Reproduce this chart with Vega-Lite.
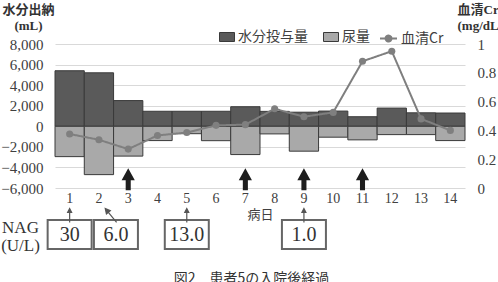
{
  "$schema": "https://vega.github.io/schema/vega-lite/v6.json",
  "padding": {"left": 0, "top": 3, "right": 0, "bottom": 0},
  "config": {
    "view": {"stroke": null},
    "font": "Liberation Serif, Noto Sans CJK JP",
    "text": {"font": "Liberation Serif, Noto Sans CJK JP"}
  },
  "datasets": {
    "days": [
      {"day": 1, "水分投与量": 5400, "尿量": -2950, "cr": 0.375},
      {"day": 2, "水分投与量": 5200, "尿量": -4700, "cr": 0.335},
      {"day": 3, "水分投与量": 2500, "尿量": -2900, "cr": 0.27},
      {"day": 4, "水分投与量": 1460, "尿量": -1390, "cr": 0.365},
      {"day": 5, "水分投与量": 1460, "尿量": -720, "cr": 0.385},
      {"day": 6, "水分投与量": 1460, "尿量": -1400, "cr": 0.435},
      {"day": 7, "水分投与量": 1900, "尿量": -2750, "cr": 0.44},
      {"day": 8, "水分投与量": 1450, "尿量": -740, "cr": 0.55},
      {"day": 9, "水分投与量": 1370, "尿量": -2420, "cr": 0.495},
      {"day": 10, "水分投与量": 1480, "尿量": -1060, "cr": 0.525},
      {"day": 11, "水分投与量": 930, "尿量": -1320, "cr": 0.88},
      {"day": 12, "水分投与量": 1770, "尿量": -810, "cr": 0.95},
      {"day": 13, "水分投与量": 1310, "尿量": -810, "cr": 0.48},
      {"day": 14, "水分投与量": 1290, "尿量": -1390, "cr": 0.4}
    ],
    "events": [{"day": 3}, {"day": 7}, {"day": 9}, {"day": 11}],
    "nag": [
      {"day": 1, "NAG": "30"},
      {"day": 2, "NAG": "6.0"},
      {"day": 5, "NAG": "13.0"},
      {"day": 9, "NAG": "1.0"}
    ]
  },
  "title": {
    "text": "図2　患者5の入院後経過",
    "orient": "bottom",
    "anchor": "middle",
    "fontSize": 14,
    "fontWeight": "normal",
    "font": "Noto Sans CJK JP",
    "color": "#333",
    "offset": 13
  },
  "bounds": "flush",
  "spacing": 21,
  "resolve": {"scale": {"x": "shared"}},
  "vconcat": [
    {
      "width": 410,
      "height": 144,
      "data": {"name": "days"},
      "layer": [
        {
          "layer": [
            {
              "transform": [{"fold": ["水分投与量", "尿量"], "as": ["series", "value"]}],
              "mark": {"type": "bar", "stroke": "#3a3a3a", "strokeWidth": 1, "opacity": 1},
              "encoding": {
                "x": {
                  "field": "day", "type": "ordinal",
                  "scale": {"type": "band", "domain": [1,2,3,4,5,6,7,8,9,10,11,12,13,14], "paddingInner": 0, "paddingOuter": 0},
                  "axis": {"labelAngle": 0, "labelPadding": 3, "ticks": false, "domain": false, "labelFontSize": 14, "labelColor": "#404040", "title": "病日", "titleFont": "Noto Sans CJK JP", "titleFontSize": 13, "titleFontWeight": "normal", "titleColor": "#404040", "titlePadding": 3}
                },
                "y": {
                  "field": "value", "type": "quantitative", "stack": null,
                  "scale": {"domain": [-6000, 8000], "nice": false},
                  "axis": {"values": [-6000,-4000,-2000,0,2000,4000,6000,8000], "tickCount": 20, "labelExpr": "format(datum.value, ',')", "labelOverlap": false, "grid": true, "gridColor": "#d9d9d9", "domain": false, "ticks": false, "labelPadding": 12, "labelFontSize": 15, "labelColor": "#404040", "title": ["水分出納", "(mL)"], "titleAngle": 0, "titleAlign": "center", "titleBaseline": "top", "titleX": -27, "titleY": -41, "titleFont": "Liberation Serif, Noto Sans CJK JP", "titleFontSize": 13, "titleFontWeight": "bold", "titleLineHeight": 16, "titleColor": "#333"}
                },
                "color": {
                  "field": "series", "type": "nominal",
                  "scale": {"domain": ["水分投与量", "尿量"], "range": ["#5a5a5a", "#a9a9a9"]},
                  "legend": {
                    "orient": "none", "direction": "horizontal", "legendX": 164, "legendY": -15,
                    "title": null, "labelFont": "Noto Sans CJK JP", "labelFontSize": 14, "labelColor": "#404040",
                    "columnPadding": 13, "labelOffset": 3, "symbolSize": 225,
                    "symbolType": "M-1,-0.6H1V0.6H-1Z", "symbolStrokeColor": "#3a3a3a", "symbolStrokeWidth": 1, "symbolOpacity": 1
                  }
                }
              }
            },
            {
              "data": {"name": "events"},
              "mark": {"type": "point", "shape": "M0,-1L0.6,0.1L0.23,0.1L0.23,1L-0.23,1L-0.23,0.1L-0.6,0.1Z", "size": 484, "filled": true, "fill": "#1e1e1e", "strokeWidth": 0, "opacity": 1},
              "encoding": {
                "x": {"field": "day", "type": "ordinal"},
                "y": {"datum": -5150, "type": "quantitative"}
              }
            }
          ]
        },
        {
          "layer": [
            {
              "mark": {"type": "line", "strokeWidth": 2, "color": "#7f7f7f"},
              "encoding": {
                "x": {"field": "day", "type": "ordinal"},
                "y": {
                  "field": "cr", "type": "quantitative",
                  "scale": {"domain": [0, 1], "nice": false},
                  "axis": {"orient": "right", "values": [0, 0.2, 0.4, 0.6, 0.8, 1], "tickCount": 20, "labelExpr": "datum.value == 0 ? '0' : datum.value == 1 ? '1' : format(datum.value, '.1f')", "labelOverlap": false, "grid": false, "domain": false, "ticks": false, "labelPadding": 12, "labelFontSize": 15, "labelColor": "#404040", "title": ["血清Cr", "(mg/dL)"], "titleAngle": 0, "titleAlign": "left", "titleBaseline": "top", "titleX": -8, "titleY": -41, "titleFont": "Liberation Serif, Noto Sans CJK JP", "titleFontSize": 13, "titleFontWeight": "bold", "titleLineHeight": 16, "titleColor": "#333"}
                },
                "strokeDash": {
                  "datum": "血清Cr",
                  "scale": {"domain": ["血清Cr"], "range": [[1, 0]]},
                  "legend": {
                    "orient": "none", "direction": "horizontal", "legendX": 324, "legendY": -15,
                    "title": null, "labelFont": "Noto Sans CJK JP", "labelFontSize": 14, "labelColor": "#404040",
                    "labelOffset": 3, "symbolSize": 289,
                    "symbolType": "M-1,0H1M-0.35,0A0.35,0.35,0,1,0,0.35,0A0.35,0.35,0,1,0,-0.35,0Z",
                    "symbolStrokeColor": "#7f7f7f", "symbolFillColor": "#7f7f7f", "symbolStrokeWidth": 2, "symbolOpacity": 1
                  }
                }
              }
            },
            {
              "mark": {"type": "point", "filled": true, "size": 50, "opacity": 1, "color": "#7f7f7f"},
              "encoding": {
                "x": {"field": "day", "type": "ordinal"},
                "y": {"field": "cr", "type": "quantitative"}
              }
            }
          ]
        }
      ],
      "resolve": {"scale": {"y": "independent"}}
    },
    {
      "width": 410,
      "height": 50,
      "data": {"name": "nag"},
      "layer": [
        {
          "mark": {"type": "point", "shape": "M-1,-0.66H1V0.66H-1Z", "size": 1936, "filled": true, "fill": "white", "stroke": "#666666", "strokeWidth": 2, "opacity": 1, "xOffset": {"expr": "datum.day === 2 ? 17 : 0"}},
          "encoding": {
            "x": {"field": "day", "type": "ordinal", "axis": null},
            "y": {
              "datum": 0.49, "type": "quantitative",
              "scale": {"domain": [0, 1], "nice": false},
              "axis": {"labels": false, "ticks": false, "domain": false, "grid": false, "title": ["NAG", "(U/L)"], "titleAngle": 0, "titleAlign": "center", "titleBaseline": "top", "titleX": -35, "titleY": 10, "titleFont": "Liberation Serif", "titleFontSize": 17, "titleFontWeight": "normal", "titleLineHeight": 18, "titleColor": "#333"}
            }
          }
        },
        {
          "mark": {"type": "text", "fontSize": 20, "color": "#333", "xOffset": {"expr": "datum.day === 2 ? 17 : 0"}},
          "encoding": {
            "x": {"field": "day", "type": "ordinal"},
            "y": {"datum": 0.49, "type": "quantitative"},
            "text": {"field": "NAG"}
          }
        },
        {
          "mark": {"type": "point", "shape": "M0,1L0,-0.6M-0.28,-0.45L0,-1L0.28,-0.45Z", "filled": true, "fill": "#555555", "stroke": "#555555", "strokeWidth": 1.2, "opacity": 1,
                   "size": {"expr": "datum.day === 2 ? 324 : 196"},
                   "angle": {"expr": "datum.day === 2 ? -39 : 0"},
                   "xOffset": {"expr": "datum.day === 2 ? 12 : 0"}},
          "encoding": {
            "x": {"field": "day", "type": "ordinal"},
            "y": {"datum": 0.87, "type": "quantitative"}
          }
        }
      ]
    }
  ]
}
